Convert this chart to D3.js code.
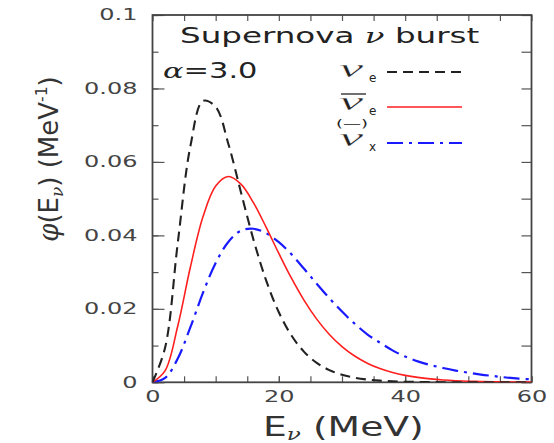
<!DOCTYPE html>
<html>
<head>
<meta charset="utf-8">
<script src="https://cdn.jsdelivr.net/npm/d3@7"></script>
<style>
  body { margin: 0; background: #fff; }
  svg { display: block; font-family: "DejaVu Sans", sans-serif; }
</style>
</head>
<body>
<div id="chart"></div>
<script>
// energies in MeV, spectra phi(E) in 1/MeV
const energies = [0, 2, 4, 6, 8, 10, 12, 14, 16, 18, 20, 22, 24, 26, 28, 30, 32, 34, 36, 38, 40,
  42, 44, 46, 48, 50, 52, 54, 56, 58, 60];
const nueValues = [0, 0.00946, 0.03797, 0.06429, 0.0766, 0.0750, 0.06496, 0.05175, 0.03876, 0.02769, 0.01906,
  0.01273, 0.00829, 0.00529, 0.00331, 0.00205, 0.00125, 0.00075, 0.00045, 0.00026, 0.00015,
  0.00009, 0.00005, 0.00003, 0.00002, 0.00001, 0, 0, 0, 0, 0];
const nuebarValues = [0, 0.00316, 0.01533, 0.03138, 0.04511, 0.05344, 0.05601, 0.05395, 0.04884, 0.04218, 0.03509,
  0.02833, 0.02231, 0.01720, 0.01303, 0.00972, 0.00716, 0.00521, 0.00375, 0.00267, 0.00189,
  0.00133, 0.00093, 0.00064, 0.00044, 0.00030, 0.00021, 0.00014, 0.00010, 0.00006, 0.00004];
const nuxValues = [0, 0.00118, 0.00646, 0.01500, 0.02440, 0.03250, 0.03820, 0.04130, 0.04180, 0.04060, 0.03815,
  0.03484, 0.03090, 0.02684, 0.02290, 0.01925, 0.01596, 0.01308, 0.01080, 0.00870, 0.00700,
  0.00570, 0.00470, 0.00390, 0.00320, 0.00260, 0.00210, 0.00170, 0.00130, 0.00100, 0.00080];

const xTickLabels = [0, 20, 40, 60];
const yTickLabels = [0, 0.02, 0.04, 0.06, 0.08, 0.1];
const xMinorTicks = d3.range(0, 61, 5);
const yMinorTicks = d3.range(0, 11).map(i => i / 100);

const W = 554, H = 443;
const frame = { left: 152.5, right: 531.5, top: 15, bottom: 382.3 };

const svg = d3.select('#chart').append('svg')
  .attr('width', W)
  .attr('height', H);

const x = d3.scaleLinear().domain([0, 60]).range([frame.left, frame.right]);
const y = d3.scaleLinear().domain([0, 0.1]).range([frame.bottom, frame.top]);

const fmtY = d => d === 0 ? '0' : String(+d.toFixed(2));

// add an axis group, drop its domain path and restyle lines
function addAxis(axis, tx, ty) {
  const g = svg.append('g').attr('transform', `translate(${tx},${ty})`).call(axis);
  g.select('.domain').remove();
  g.selectAll('line').attr('stroke', '#555').attr('stroke-width', 1.2);
  g.selectAll('text')
    .attr('fill', '#444')
    .attr('font-family', '"DejaVu Sans", sans-serif')
    .attr('font-size', 15);
  return g;
}

// ticks, all pointing inward
addAxis(d3.axisLeft(y).tickValues(yMinorTicks).tickSize(-6).tickFormat(''), frame.left, 0);
const yAx = addAxis(d3.axisLeft(y).tickValues(yTickLabels).tickSize(-12).tickFormat(fmtY), frame.left, 0);
yAx.selectAll('text').attr('x', 0).attr('transform', 'translate(-15,0) scale(1.6,1)');

addAxis(d3.axisRight(y).tickValues(yMinorTicks).tickSize(-10).tickFormat(''), frame.right, 0);
addAxis(d3.axisTop(x).tickValues(xMinorTicks).tickSize(-6).tickFormat(''), 0, frame.top);
addAxis(d3.axisBottom(x).tickValues(xMinorTicks).tickSize(-6).tickFormat(''), 0, frame.bottom);
const xAx = addAxis(d3.axisBottom(x).tickValues(xTickLabels).tickSize(-6).tickFormat(d3.format('d')), 0, frame.bottom);
xAx.selectAll('text').attr('y', 0).attr('transform', 'translate(0,9) scale(1.6,1)');

// frame
svg.append('rect')
  .attr('x', frame.left).attr('y', frame.top)
  .attr('width', frame.right - frame.left).attr('height', frame.bottom - frame.top)
  .attr('fill', 'none').attr('stroke', '#444').attr('stroke-width', 1.8);

// curves
const line = d3.line()
  .x(d => x(d[0]))
  .y(d => y(d[1]))
  .curve(d3.curveCatmullRom.alpha(0.5));

const curveStyles = [
  { values: nuxValues, color: '#1a1aff', dash: '16,6,3,6', width: 2.2 },
  { values: nuebarValues, color: '#ff1f1f', dash: null, width: 1.6 },
  { values: nueValues, color: '#222', dash: '10,6', width: 2.1 }
];

svg.append('defs').append('clipPath').attr('id', 'plotclip')
  .append('rect')
  .attr('x', frame.left).attr('y', frame.top)
  .attr('width', frame.right - frame.left).attr('height', frame.bottom - frame.top);

const plot = svg.append('g').attr('clip-path', 'url(#plotclip)');
curveStyles.forEach(s => {
  plot.append('path')
    .datum(energies.map((e, i) => [e, s.values[i]]))
    .attr('d', line)
    .attr('fill', 'none')
    .attr('stroke', s.color)
    .attr('stroke-width', s.width)
    .attr('stroke-dasharray', s.dash);
});

// title and alpha
const title = svg.append('text')
  .attr('transform', 'translate(180,43) scale(1.55,1)')
  .attr('font-size', 21).attr('fill', '#222');
title.append('tspan').text('Supernova ');
title.append('tspan').attr('font-family', '"DejaVu Serif", serif').attr('font-style', 'italic').text('ν');
title.append('tspan').text(' burst');

const alpha = svg.append('text')
  .attr('transform', 'translate(163,78) scale(1.45,1)')
  .attr('font-size', 21).attr('fill', '#222');
alpha.append('tspan').attr('font-family', '"DejaVu Serif", serif').attr('font-style', 'italic').text('α');
alpha.append('tspan').text('=3.0');

// legend
const legendSubs = ['e', 'e', 'x'];
const legendY = [72, 107, 143];
const nuFont = '"DejaVu Serif", serif';
legendSubs.forEach((sub, i) => {
  const base = legendY[i] + (i === 0 ? 5 : 3);
  // a thin white stroke on top keeps the stretched glyph light
  svg.append('text')
    .attr('transform', `translate(339,${base}) scale(2.1,1)`)
    .attr('font-family', '"Liberation Serif", serif').attr('font-style', 'italic')
    .attr('font-size', 26).attr('fill', '#222')
    .attr('stroke', '#fff').attr('stroke-width', 0.35)
    .attr('paint-order', 'fill')
    .text('ν');
  svg.append('text')
    .attr('transform', `translate(369,${base + 5})`)
    .attr('font-size', 12).attr('fill', '#222')
    .text(sub);
  const s = curveStyles[2 - i];
  svg.append('line')
    .attr('x1', 387).attr('x2', 462)
    .attr('y1', legendY[i]).attr('y2', legendY[i])
    .attr('stroke', s.color).attr('stroke-width', s.width)
    .attr('stroke-dasharray', s.dash);
});
// bar over anti-nu_e and the (—) marker over nu_x
svg.append('line')
  .attr('x1', 341).attr('x2', 366).attr('y1', 94).attr('y2', 94)
  .attr('stroke', '#222').attr('stroke-width', 1.3);
svg.append('text')
  .attr('transform', 'translate(352,127) scale(1.8,1)')
  .attr('text-anchor', 'middle')
  .attr('font-size', 10).attr('fill', '#222')
  .text('(—)');

// axis titles
const xLab = svg.append('text')
  .attr('transform', 'translate(263,436) scale(1.45,1)')
  .attr('font-size', 26).attr('fill', '#333');
xLab.append('tspan').text('E');
xLab.append('tspan').attr('font-size', 16).attr('dy', 4)
  .attr('font-family', nuFont).attr('font-style', 'italic').text('ν');
xLab.append('tspan').attr('dy', -4).text(' (MeV)');

const yLab = svg.append('text')
  .attr('transform', 'translate(58,159) scale(1.35,1) rotate(-90) scale(1.3,1)')
  .attr('text-anchor', 'middle')
  .attr('font-size', 20).attr('fill', '#333');
yLab.append('tspan').attr('font-family', nuFont).attr('font-style', 'italic').text('φ');
yLab.append('tspan').text('(E');
yLab.append('tspan').attr('font-size', 13).attr('dy', 4)
  .attr('font-family', nuFont).attr('font-style', 'italic').text('ν');
yLab.append('tspan').attr('dy', -4).text(') (MeV');
yLab.append('tspan').attr('font-size', 12).attr('dy', -8).text('-1');
yLab.append('tspan').attr('dy', 8).text(')');
</script>
</body>
</html>
